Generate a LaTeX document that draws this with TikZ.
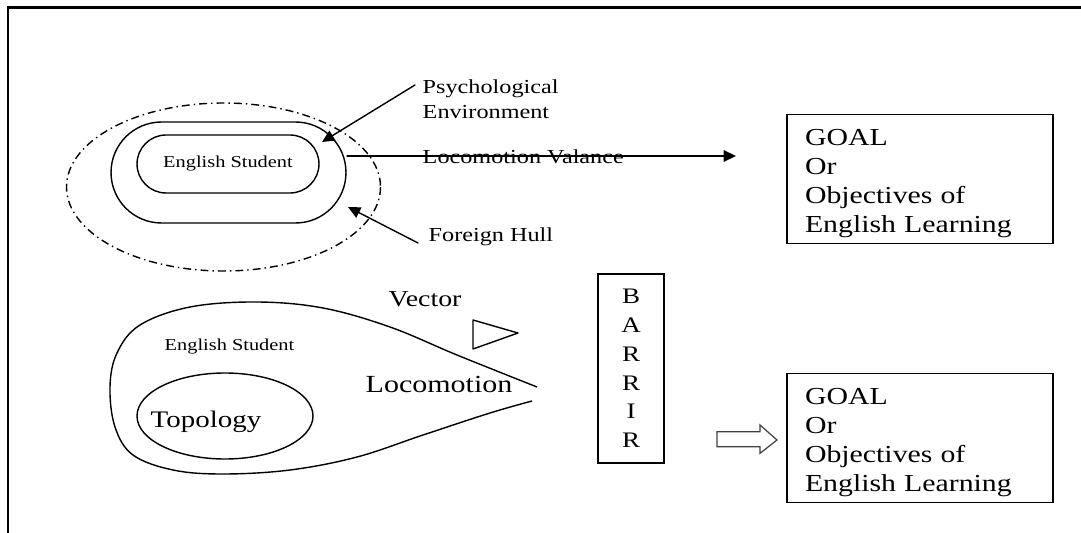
\documentclass[tikz,border=0pt]{standalone}
\usepackage{fontspec}
\setmainfont[FakeStretch=1.22]{Liberation Serif}
\usepackage{tikz}
\usetikzlibrary{arrows,arrows.meta,shapes.misc}
\usepackage{tkz-euclide}

\newcommand{\goaltext}{\rule{0pt}{14.3pt}GOAL\\Or\\Objectives of\\English Learning}

\begin{document}
\begin{tikzpicture}[x=0.02cm,y=-0.02cm,line width=0.8pt,
  ring/.style={draw,rounded rectangle,inner sep=0pt},
  goalbox/.style={draw,text width=4.6cm,align=left,inner xsep=0.36cm,
    minimum height=2.56cm,font=\fontsize{13.9}{16.5}\selectfont},
  lbl/.style={inner sep=0pt,anchor=base west},
  tip/.style={-{Triangle[length=7pt,width=6.5pt]}}]

  \useasboundingbox (0,0) rectangle (1081,533);
  \draw[line width=1.2pt] (8,533) -- (8,7.5) -- (1081,7.5);

  \draw[dash pattern=on 4.5pt off 2.3pt on 0.8pt off 2.3pt]
    (223.5,187) ellipse [x radius=157, y radius=84];
  \node[ring,minimum width=4.7cm,minimum height=2.02cm] (penv) at (228.5,172.5) {};
  \node[ring,minimum width=3.64cm,minimum height=1.16cm,
    font=\fontsize{9.5}{11}\selectfont] (stud) at (228,164) {English Student};

  \node[inner sep=0pt,anchor=north west,align=left,
    font=\fontsize{11.3}{14.2}\selectfont] (psy) at (422,79.5) {Psychological\\Environment};
  \node[lbl,font=\fontsize{11.3}{14}\selectfont] (locv) at (422,164) {Locomotion Valance};
  \node[lbl,font=\fontsize{11.3}{14}\selectfont] (hull) at (428,242) {Foreign Hull};

  \coordinate (psytail) at (415,85);
  \coordinate (psyhead) at (322,142);
  \coordinate (valtail) at (347,156);
  \coordinate (valhead) at (736,156);
  \coordinate (hulltail) at (418,243);
  \coordinate (hullhead) at (348,207);
  \tkzDrawSegments[tip,line width=0.8pt](psytail,psyhead valtail,valhead hulltail,hullhead)

  \node[goalbox] (goalA) at (920,179) {\goaltext};
  \node[goalbox] (goalB) at (920,438) {\goaltext};

  \draw plot[smooth,tension=0.6] coordinates {(537,387) (457,355) (390,327) (323,308)
    (257,302) (190,307) (140,325) (117,353) (110,387) (115,427) (133,455) (173,470)
    (223,474) (290,470) (357,457) (423,435) (490,413) (532,401)};
  \draw (225,416) ellipse [x radius=88, y radius=43];
  \node[lbl,font=\fontsize{13.5}{16}\selectfont] (topo) at (150,427) {Topology};
  \node[lbl,font=\fontsize{9.5}{11}\selectfont] (stud2) at (164,350) {English Student};
  \node[lbl,font=\fontsize{14}{16}\selectfont] (loco) at (365,392) {Locomotion};
  \node[lbl,font=\fontsize{13}{16}\selectfont] (vec) at (388,307) {Vector};

  \coordinate (V1) at (473,320);
  \coordinate (V2) at (473,349);
  \coordinate (V3) at (518,333);
  \tkzDrawPolygon[line width=0.8pt](V1,V2,V3)

  \node[draw,align=center,minimum width=1.32cm,minimum height=3.78cm,
    font=\fontsize{12.6}{16.4}\selectfont] (bar) at (631,368.5) {B\\A\\R\\R\\I\\R};

  \draw[line width=0.7pt,black!75] (717,431.7) -- (760,431.7) -- (760,425) -- (777,440)
    -- (760,453.3) -- (760,446.7) -- (717,446.7) -- cycle;

\end{tikzpicture}
\end{document}
